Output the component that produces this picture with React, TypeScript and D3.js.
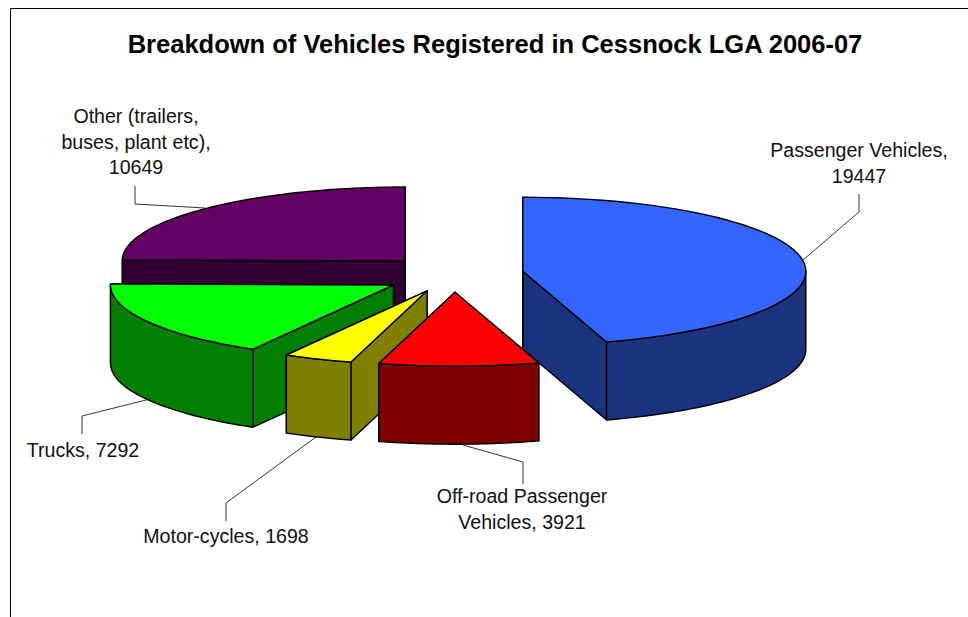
import React from "react";
import * as d3 from "d3";

const categories = [
  "Passenger Vehicles",
  "Off-road Passenger Vehicles",
  "Motor-cycles",
  "Trucks",
  "Other (trailers, buses, plant etc)",
];
const values = [19447, 3921, 1698, 7292, 10649];
const topColors = ["#3366ff", "#ff0000", "#ffff00", "#00ff00", "#660066"];
const sideColors = ["#19337f", "#7f0000", "#7f7f00", "#007f00", "#330033"];

const title = "Breakdown of Vehicles Registered in Cessnock LGA 2006-07";

// label text per slice, one entry per line
const labelLines = [
  ["Passenger Vehicles,", "19447"],
  ["Off-road Passenger", "Vehicles, 3921"],
  ["Motor-cycles, 1698"],
  ["Trucks, 7292"],
  ["Other (trailers,", "buses, plant etc),", "10649"],
];
const labelPos = [
  { x: 859, y: 157 },
  { x: 522, y: 503 },
  { x: 226, y: 543 },
  { x: 83, y: 457 },
  { x: 136, y: 123 },
];
const leaders: [number, number][][] = [
  [[859, 194], [859, 212], [803, 260]],
  [[463, 445], [523, 462], [523, 484]],
  [[316, 437], [226, 503], [226, 521]],
  [[150, 399], [82, 416], [82, 434]],
  [[135, 186], [135, 204], [205, 208]],
];

const width = 968;
const height = 617;
const cx = 454;
const cy = 274;
const rx = 283;
const ry = 74;
const depth = 78;
const explode = 0.246;
// the exploded trucks slice sits a bit lower than the rest in the original
const nudgeY = [0, 0, 0, 2, 0];

const pie = d3.pie<number>().sort(null).startAngle(0).endAngle(2 * Math.PI);
const arcs = pie(values);

// arcs get drawn back to front, the order matters for the overlaps
const drawOrder = [4, 0, 3, 2, 1];

const line = d3.line<[number, number]>();

function App() {
  const rim = (a: number, ox: number, oy: number): [number, number] => [
    ox + rx * Math.sin(a),
    oy - ry * Math.cos(a),
  ];

  const sweep = (a0: number, a1: number, ox: number, oy: number) =>
    d3.range(0, 61).map((i) => rim(a0 + ((a1 - a0) * i) / 60, ox, oy));

  const slices = drawOrder.map((i) => {
    const d = arcs[i];
    const mid = (d.startAngle + d.endAngle) / 2;
    const ox = cx + explode * rx * Math.sin(mid);
    const oy = cy - explode * ry * Math.cos(mid) + nudgeY[i];
    const start = rim(d.startAngle, ox, oy);
    const end = rim(d.endAngle, ox, oy);

    const wall = (p: [number, number]) =>
      line([[ox, oy], p, [p[0], p[1] + depth], [ox, oy + depth]]) + "Z";

    // only the front half of the rim can be seen
    const a0 = Math.max(d.startAngle, Math.PI / 2);
    const a1 = Math.min(d.endAngle, (3 * Math.PI) / 2);
    let outer: string | null = null;
    if (a1 > a0) {
      const upper = sweep(a0, a1, ox, oy);
      const lower = sweep(a1, a0, ox, oy + depth);
      outer = line([...upper, ...lower]) + "Z";
    }
    const top = line([[ox, oy], ...sweep(d.startAngle, d.endAngle, ox, oy)]) + "Z";

    return { i, end: wall(end), start: wall(start), outer, top };
  });

  return (
    <svg
      width={width}
      height={height}
      style={{ position: "absolute", left: 0, top: 0 }}
      fontFamily="'Liberation Sans', Arial, sans-serif"
    >
      <rect width={width} height={height} fill="#ffffff" />
      <path d={`M10.5,${height}V8.5H${width}`} fill="none" stroke="#000" strokeWidth={1} />

      <text x={495} y={53} textAnchor="middle" fontSize={25.5} fontWeight="bold" fill="#000">
        {title}
      </text>

      {slices.map((s) => (
        <g key={categories[s.i]} stroke="#000" strokeWidth={1.4} strokeLinejoin="round">
          <path d={s.end} fill={sideColors[s.i]} />
          <path d={s.start} fill={sideColors[s.i]} />
          {s.outer && <path d={s.outer} fill={sideColors[s.i]} />}
          <path d={s.top} fill={topColors[s.i]} />
        </g>
      ))}

      {leaders.map((pts, i) => (
        <path key={i} d={line(pts) ?? ""} fill="none" stroke="#000" strokeWidth={0.8} />
      ))}

      {labelLines.map((lines, i) => (
        <text key={i} textAnchor="middle" fontSize={19.6} fill="#111">
          {lines.map((t, j) => (
            <tspan key={j} x={labelPos[i].x} y={labelPos[i].y + j * 25.5}>
              {t}
            </tspan>
          ))}
        </text>
      ))}
    </svg>
  );
}

export default App;
